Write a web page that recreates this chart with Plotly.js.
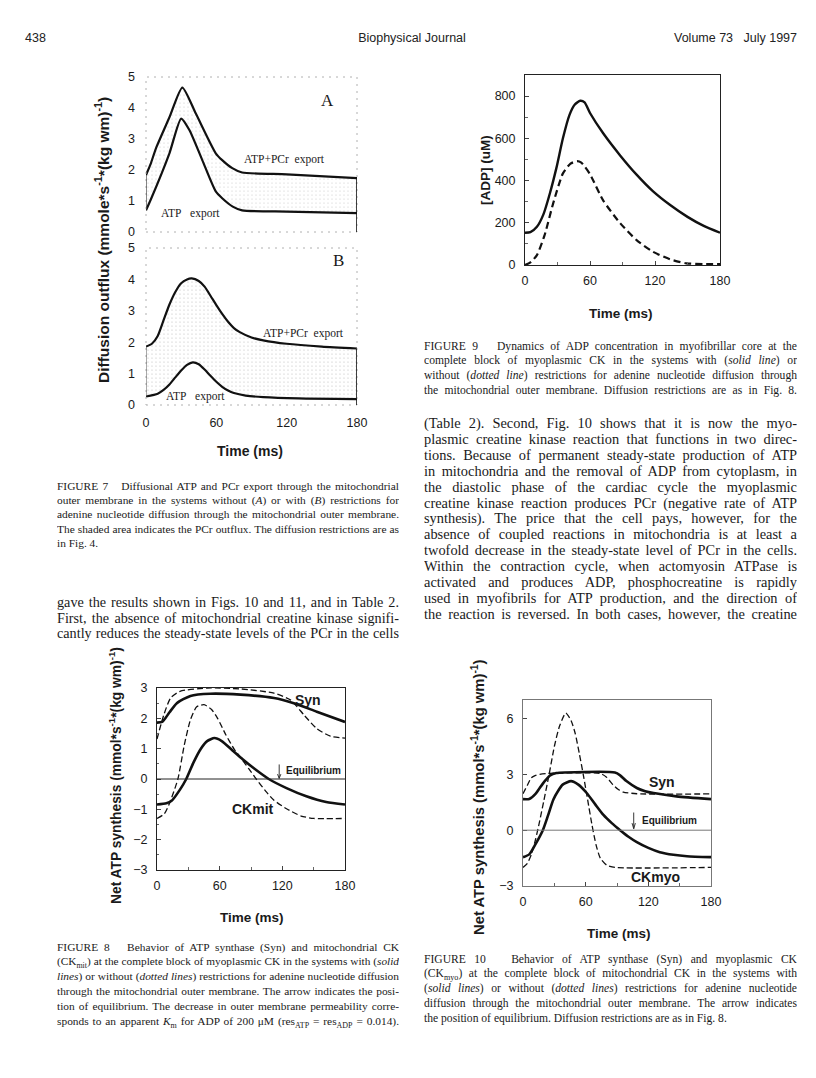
<!DOCTYPE html>
<html>
<head>
<meta charset="utf-8">
<script src="https://cdn.plot.ly/plotly-3.0.1.min.js"></script>
<style>
  html, body { margin:0; padding:0; background:#fff; }
  #page { position:relative; width:816px; height:1078px; overflow:hidden; background:#fff; }
  #chart { position:absolute; left:0; top:0; width:816px; height:1078px; }
  .ln { position:absolute; white-space:nowrap; font-family:"Liberation Serif","Times New Roman",serif; color:#1a1a1a; }
  .hd { position:absolute; font-family:"Liberation Sans Narrow","Liberation Sans",Arial,sans-serif; font-size:12.5px; color:#222; }
</style>
</head>
<body>
<div id="page">
  <div id="chart"></div>
</div>
<script>
// ---------------- DATA ----------------
// Figure 7A (no restrictions)
const fig7A_t_total = [0, 4, 8.5, 20, 31, 42.5, 59.5, 65, 73.6, 82, 120, 180];
const fig7A_total   = [1.84, 2.2, 2.7, 3.7, 4.66, 3.82, 2.54, 2.32, 2.06, 1.92, 1.86, 1.74];
const fig7A_t_atp   = [0, 4, 20, 30, 37, 48, 59.5, 65, 74, 82, 120, 180];
const fig7A_atp     = [0.7, 1.04, 2.54, 3.66, 3.29, 2.32, 1.31, 1.09, 0.82, 0.7, 0.66, 0.61];
// Figure 7B (with restrictions)
const fig7B_t       = [0, 5, 10, 15, 20, 25, 30, 35, 39, 45, 50, 55, 60, 65, 70, 75, 80, 90, 100, 120, 150, 180];
const fig7B_total   = [1.86, 1.95, 2.2, 2.7, 3.2, 3.6, 3.88, 4.0, 4.03, 3.95, 3.77, 3.48, 3.18, 2.9, 2.65, 2.45, 2.32, 2.15, 2.06, 1.95, 1.86, 1.8];
const fig7B_t_atp   = [0, 10, 15, 20, 25, 30, 35, 40, 45, 50, 55, 60, 65, 70, 75, 85, 100, 130, 180];
const fig7B_atp     = [0.27, 0.36, 0.48, 0.65, 0.88, 1.1, 1.28, 1.36, 1.3, 1.13, 0.93, 0.74, 0.58, 0.46, 0.38, 0.3, 0.25, 0.21, 0.19];
const fig7_ticks    = [0, 1, 2, 3, 4, 5];
const time_ticks    = [0, 60, 120, 180];

// Figure 9: [ADP] (uM)
const fig9_t_solid  = [0, 5, 11, 17, 23, 29, 35, 41, 46, 51, 55, 60, 72, 88, 103, 118, 134, 150, 165, 180];
const fig9_solid    = [153, 156, 181, 240, 340, 460, 600, 710, 760, 778, 770, 720, 625, 518, 428, 350, 284, 228, 185, 153];
const fig9_t_dash   = [0, 5, 11, 18, 26, 35, 42, 48, 52, 60, 72, 88, 103, 118, 134, 149, 165, 180];
const fig9_dash     = [0, 12, 47, 140, 292, 434, 480, 492, 485, 430, 307, 197, 118, 63, 27, 8, 4, 4];
const fig9_ticks    = [0, 200, 400, 600, 800];

// Figure 8: Syn and CKmit
const fig8_t_syn_s  = [0, 5, 12, 19, 32, 51, 80, 112, 131, 153, 180];
const fig8_syn_s    = [1.86, 1.88, 2.2, 2.5, 2.74, 2.81, 2.78, 2.67, 2.5, 2.22, 1.88];
const fig8_t_syn_d  = [0, 6.4, 13, 22, 48, 80, 112, 128, 141, 153, 166, 180];
const fig8_syn_d    = [1.32, 2.1, 2.67, 2.89, 3.0, 2.97, 2.83, 2.6, 2.1, 1.66, 1.41, 1.35];
const fig8_t_ck_s   = [0, 9, 14, 22, 28, 35, 42, 48, 55, 62, 72, 82, 94, 107, 124, 143, 162, 180];
const fig8_ck_s     = [-0.84, -0.8, -0.72, -0.35, 0, 0.55, 1.0, 1.25, 1.35, 1.25, 0.95, 0.65, 0.32, 0, -0.3, -0.57, -0.76, -0.84];
const fig8_t_ck_d   = [0, 7, 12, 20, 26, 32, 38, 45, 52, 58, 66, 74, 82, 88, 95, 104, 112, 124, 138, 150, 180];
const fig8_ck_d     = [-1.3, -1.15, -0.8, 0, 1.1, 1.95, 2.38, 2.45, 2.3, 2.0, 1.45, 0.98, 0.62, 0.33, 0, -0.4, -0.7, -0.98, -1.22, -1.3, -1.3];
const fig8_ticks    = [-3, -2, -1, 0, 1, 2, 3];

// Figure 10: Syn and CKmyo
const fig10_t_syn_s = [0, 6, 12, 16, 21, 26, 32, 40, 88, 93, 99, 109, 117, 125, 147, 180];
const fig10_syn_s   = [1.67, 1.68, 1.95, 2.27, 2.65, 2.95, 3.07, 3.1, 3.1, 2.95, 2.64, 2.27, 2.1, 2.0, 1.82, 1.67];
const fig10_t_syn_d = [0, 4, 8, 12, 16, 24, 74, 80, 86, 91, 96, 109, 180];
const fig10_syn_d   = [1.96, 2.4, 2.82, 2.95, 3.0, 3.05, 3.05, 2.85, 2.45, 2.2, 2.05, 1.96, 1.95];
const fig10_t_ck_s  = [0, 6, 12, 19, 24, 29, 34, 38, 46, 53, 61, 69, 77, 85, 93, 101, 109, 120, 131, 144, 157, 180];
const fig10_ck_s    = [-1.45, -1.3, -0.75, 0, 0.8, 1.64, 2.15, 2.45, 2.64, 2.45, 2.0, 1.4, 0.82, 0.38, 0, -0.35, -0.64, -0.95, -1.18, -1.32, -1.4, -1.45];
const fig10_t_ck_d  = [0, 4, 8, 12, 16, 20, 25, 30, 35, 41, 46, 50, 54, 58, 62, 66, 70, 74, 80, 88, 180];
const fig10_ck_d    = [-2.0, -1.8, -1.3, -0.5, 0.5, 1.6, 3.0, 4.5, 5.6, 6.3, 5.9, 5.2, 4.1, 2.9, 1.6, 0.3, -0.8, -1.5, -1.87, -2.0, -2.0];
const fig10_ticks   = [-3, 0, 3, 6];

// ---------------- TEXT ----------------
const headerLeft = "438", headerMid = "Biophysical Journal", headerRight = "Volume 73&nbsp;&nbsp; July 1997";
const cap7 = [
  "FIGURE 7&nbsp;&nbsp; Diffusional ATP and PCr export through the mitochondrial",
  "outer membrane in the systems without (<i>A</i>) or with (<i>B</i>) restrictions for",
  "adenine nucleotide diffusion through the mitochondrial outer membrane.",
  "The shaded area indicates the PCr outflux. The diffusion restrictions are as",
  "in Fig. 4."];
const bodyL = [
  "gave the results shown in Figs. 10 and 11, and in Table 2.",
  "First, the absence of mitochondrial creatine kinase signifi-",
  "cantly reduces the steady-state levels of the PCr in the cells"];
const cap9 = [
  "FIGURE 9&nbsp;&nbsp; Dynamics of ADP concentration in myofibrillar core at the",
  "complete block of myoplasmic CK in the systems with (<i>solid line</i>) or",
  "without (<i>dotted line</i>) restrictions for adenine nucleotide diffusion through",
  "the mitochondrial outer membrane. Diffusion restrictions are as in Fig. 8."];
const bodyR = [
  "(Table 2). Second, Fig. 10 shows that it is now the myo-",
  "plasmic creatine kinase reaction that functions in two direc-",
  "tions. Because of permanent steady-state production of ATP",
  "in mitochondria and the removal of ADP from cytoplasm, in",
  "the diastolic phase of the cardiac cycle the myoplasmic",
  "creatine kinase reaction produces PCr (negative rate of ATP",
  "synthesis). The price that the cell pays, however, for the",
  "absence of coupled reactions in mitochondria is at least a",
  "twofold decrease in the steady-state level of PCr in the cells.",
  "Within the contraction cycle, when actomyosin ATPase is",
  "activated and produces ADP, phosphocreatine is rapidly",
  "used in myofibrils for ATP production, and the direction of",
  "the reaction is reversed. In both cases, however, the creatine"];
const cap8 = [
  "FIGURE 8&nbsp;&nbsp; Behavior of ATP synthase (Syn) and mitochondrial CK",
  "(CK<sub style='font-size:70%'>mit</sub>) at the complete block of myoplasmic CK in the systems with (<i>solid</i>",
  "<i>lines</i>) or without (<i>dotted lines</i>) restrictions for adenine nucleotide diffusion",
  "through the mitochondrial outer membrane. The arrow indicates the posi-",
  "tion of equilibrium. The decrease in outer membrane permeability corre-",
  "sponds to an apparent <i>K</i><sub style='font-size:70%'>m</sub> for ADP of 200 μM (res<sub style='font-size:70%'>ATP</sub> = res<sub style='font-size:70%'>ADP</sub> = 0.014)."];
const cap10 = [
  "FIGURE 10&nbsp;&nbsp; Behavior of ATP synthase (Syn) and myoplasmic CK",
  "(CK<sub style='font-size:70%'>myo</sub>) at the complete block of mitochondrial CK in the systems with",
  "(<i>solid lines</i>) or without (<i>dotted lines</i>) restrictions for adenine nucleotide",
  "diffusion through the mitochondrial outer membrane. The arrow indicates",
  "the position of equilibrium. Diffusion restrictions are as in Fig. 8."];

// ---------------- PAGE TEXT ----------------
const page = document.getElementById('page');
function addBlock(lines, left, width, topCenter, step, size, lastLeft) {
  lines.forEach((t, i) => {
    const d = document.createElement('div');
    const isLast = (i === lines.length - 1);
    d.className = 'ln';
    d.style.left = left + 'px';
    d.style.fontSize = size + 'px';
    d.style.lineHeight = step + 'px';
    d.style.height = step + 'px';
    d.style.top = (topCenter + i * step - step / 2) + 'px';
    d.innerHTML = t;
    page.appendChild(d);
    // shrink if the natural line is wider than the column
    let fs = size;
    while (d.offsetWidth > width && fs > 7) { fs -= 0.1; d.style.fontSize = fs + 'px'; }
    if (!(isLast && lastLeft)) {
      d.style.width = width + 'px';
      d.style.whiteSpace = 'normal';
      d.style.textAlign = 'justify';
      d.style.textAlignLast = 'justify';
      d.style.overflow = 'hidden';
    }
  });
}
function addHeader(txt, x, y, align) {
  const d = document.createElement('div');
  d.className = 'hd';
  d.innerHTML = txt;
  d.style.top = (y - 8) + 'px';
  if (align === 'left') d.style.left = x + 'px';
  else if (align === 'right') { d.style.right = (816 - x) + 'px'; }
  else { d.style.left = (x - 100) + 'px'; d.style.width = '200px'; d.style.textAlign = 'center'; }
  page.appendChild(d);
}
addHeader(headerLeft, 25, 39, 'left');
addHeader(headerMid, 412, 39, 'center');
addHeader(headerRight, 797, 39, 'right');
addBlock(cap7, 57, 342, 486, 14.3, 11.4, true);
addBlock(bodyL, 57, 342, 603, 15.6, 14.2, false);
addBlock(cap9, 424, 373, 347, 14.8, 11.6, false);
addBlock(bodyR, 424, 373, 424, 15.9, 14.4, false);
addBlock(cap8, 57, 342, 947, 14.8, 11.4, false);
addBlock(cap10, 424, 373, 960, 14.8, 11.6, true);

// ---------------- CHART ----------------
const W = 816, H = 1078;
const fx = p => p / W;
const fy = p => 1 - p / H;

const solid = (c, w) => ({color: c || '#111', width: w || 2.2, shape: 'spline', smoothing: 0.6});
const dashed = (w, d) => ({color: '#111', width: w || 1.3, dash: d || '6px,3px', shape: 'spline', smoothing: 0.6});

const traces = [
  // Fig 7A
  {x: fig7A_t_atp, y: fig7A_atp, xaxis: 'x', yaxis: 'y', mode: 'lines', line: solid('#111', 2.2)},
  {x: fig7A_t_total, y: fig7A_total, xaxis: 'x', yaxis: 'y', mode: 'lines', line: solid('#111', 2.2),
   fill: 'tonexty', fillcolor: 'rgba(0,0,0,0)',
   fillpattern: {shape: '.', fgcolor: '#c4c4c4', size: 4, solidity: 0.06}},
  // Fig 7B
  {x: fig7B_t_atp, y: fig7B_atp, xaxis: 'x2', yaxis: 'y2', mode: 'lines', line: solid('#111', 2.2)},
  {x: fig7B_t, y: fig7B_total, xaxis: 'x2', yaxis: 'y2', mode: 'lines', line: solid('#111', 2.2),
   fill: 'tonexty', fillcolor: 'rgba(0,0,0,0)',
   fillpattern: {shape: '.', fgcolor: '#b8b8b8', size: 4, solidity: 0.07}},
  // Fig 9
  {x: fig9_t_solid, y: fig9_solid, xaxis: 'x3', yaxis: 'y3', mode: 'lines', line: solid('#111', 2.4)},
  {x: fig9_t_dash, y: fig9_dash, xaxis: 'x3', yaxis: 'y3', mode: 'lines', line: {color: '#111', width: 2.2, dash: '7px,4px', shape: 'spline', smoothing: 0.6}},
  // Fig 8
  {x: fig8_t_syn_d, y: fig8_syn_d, xaxis: 'x4', yaxis: 'y4', mode: 'lines', line: dashed(1.3)},
  {x: fig8_t_ck_d, y: fig8_ck_d, xaxis: 'x4', yaxis: 'y4', mode: 'lines', line: dashed(1.3)},
  {x: fig8_t_syn_s, y: fig8_syn_s, xaxis: 'x4', yaxis: 'y4', mode: 'lines', line: solid('#111', 2.6)},
  {x: fig8_t_ck_s, y: fig8_ck_s, xaxis: 'x4', yaxis: 'y4', mode: 'lines', line: solid('#111', 2.6)},
  // Fig 10
  {x: fig10_t_syn_d, y: fig10_syn_d, xaxis: 'x5', yaxis: 'y5', mode: 'lines', line: dashed(1.3)},
  {x: fig10_t_ck_d, y: fig10_ck_d, xaxis: 'x5', yaxis: 'y5', mode: 'lines', line: dashed(1.3)},
  {x: fig10_t_syn_s, y: fig10_syn_s, xaxis: 'x5', yaxis: 'y5', mode: 'lines', line: solid('#111', 2.6)},
  {x: fig10_t_ck_s, y: fig10_ck_s, xaxis: 'x5', yaxis: 'y5', mode: 'lines', line: solid('#111', 2.6)}
];

const tickFont = {family: 'Liberation Sans, Arial, sans-serif', size: 12.5, color: '#1a1a1a'};
function xa(dom, showLabels, opts) {
  return Object.assign({
    domain: [fx(dom[0]), fx(dom[1])], range: [0, 180], tickvals: time_ticks,
    showticklabels: showLabels, tickfont: tickFont, showgrid: false, zeroline: false,
    ticks: 'inside', ticklen: 4, tickcolor: '#444',
    minor: {tickvals: [30, 90, 150], ticks: 'inside', ticklen: 3, tickcolor: '#666'},
    showline: true, linecolor: '#222', linewidth: 1, mirror: true, fixedrange: true, ticklabelstandoff: 4
  }, opts || {});
}
function ya(dom, range, tv, opts) {
  return Object.assign({
    domain: [fy(dom[1]), fy(dom[0])], range: range, tickvals: tv,
    tickfont: tickFont, showgrid: false, zeroline: false,
    ticks: 'inside', ticklen: 4, tickcolor: '#444',
    showline: true, linecolor: '#222', linewidth: 1, mirror: true, fixedrange: true, ticklabelstandoff: 6
  }, opts || {});
}
// arrow drawn as a path in data coordinates: shaft plus open head
function arrowPath(x, yTop, yTip, dx, dy) {
  return `M ${x},${yTop} L ${x},${yTip} M ${x - dx},${yTip + dy} L ${x},${yTip} L ${x + dx},${yTip + dy}`;
}
const pc = (x, y, text, size, extra) => Object.assign({xref: 'paper', yref: 'paper', x: fx(x), y: fy(y), xanchor: 'center', yanchor: 'middle', text: text, showarrow: false, font: {size: size, weight: 'bold'}}, extra || {});

const layout = {
  width: W, height: H, margin: {l: 0, r: 0, t: 0, b: 0},
  paper_bgcolor: 'rgba(0,0,0,0)', plot_bgcolor: 'rgba(0,0,0,0)', showlegend: false,
  font: {family: 'Liberation Sans, Arial, sans-serif', color: '#1a1a1a'},
  // Fig 7A
  xaxis: xa([146, 357], false, {anchor: 'y', showline: false, ticks: '', minor: {ticks: ''}}),
  yaxis: ya([77, 232], [0, 5], fig7_ticks, {anchor: 'x', showline: false, ticks: '', ticklabelstandoff: 10}),
  // Fig 7B
  xaxis2: xa([146, 357], true, {anchor: 'y2', showline: false, ticks: '', minor: {ticks: ''}, ticklabelstandoff: 8}),
  yaxis2: ya([248, 405], [0, 5], fig7_ticks, {anchor: 'x2', showline: false, ticks: '', ticklabelstandoff: 10}),
  // Fig 9
  xaxis3: xa([525, 720], true, {anchor: 'y3'}),
  yaxis3: ya([75, 265], [0, 900], fig9_ticks, {anchor: 'x3', minor: {tickvals: [100, 300, 500, 700], ticks: 'inside', ticklen: 3, tickcolor: '#666'}}),
  // Fig 8
  xaxis4: xa([157, 345], true, {anchor: 'y4'}),
  yaxis4: ya([688, 870], [-3, 3], fig8_ticks, {anchor: 'x4', minor: {dtick: 0.5, ticks: 'inside', ticklen: 2, tickcolor: '#666'}}),
  // Fig 10
  xaxis5: xa([523, 711], true, {anchor: 'y5', linecolor: '#777'}),
  yaxis5: ya([700, 886], [-3, 7], fig10_ticks, {anchor: 'x5', linecolor: '#777'}),
  shapes: [
    // Fig 7 faint broken frames
    {type: 'rect', xref: 'x domain', yref: 'y domain', x0: 0, x1: 1, y0: 0, y1: 1, line: {color: '#b0b0b0', width: 1, dash: '2px,5px'}},
    {type: 'rect', xref: 'x2 domain', yref: 'y2 domain', x0: 0, x1: 1, y0: 0, y1: 1, line: {color: '#b0b0b0', width: 1, dash: '2px,5px'}},
    // Fig 7 end bars
    {type: 'line', xref: 'x', yref: 'y', x0: 180, x1: 180, y0: 0, y1: fig7A_total[fig7A_total.length - 1], line: {color: '#111', width: 1.6}},
    {type: 'line', xref: 'x', yref: 'y', x0: 0, x1: 0, y0: fig7A_atp[0], y1: fig7A_total[0], line: {color: '#333', width: 1.2}},
    {type: 'line', xref: 'x2', yref: 'y2', x0: 180, x1: 180, y0: 0, y1: fig7B_total[fig7B_total.length - 1], line: {color: '#111', width: 1.6}},
    {type: 'line', xref: 'x2', yref: 'y2', x0: 0, x1: 0, y0: fig7B_atp[0], y1: fig7B_total[0], line: {color: '#555', width: 1}},
    // Zero lines
    {type: 'line', xref: 'x4', yref: 'y4', x0: 0, x1: 180, y0: 0, y1: 0, line: {color: '#222', width: 1}},
    {type: 'line', xref: 'x5', yref: 'y5', x0: 0, x1: 180, y0: 0, y1: 0, line: {color: '#777', width: 1}},
    // Equilibrium arrows
    {type: 'path', xref: 'x4', yref: 'y4', path: arrowPath(117, 0.48, 0.02, 1.6, 0.14), line: {color: '#222', width: 0.9}},
    {type: 'path', xref: 'x5', yref: 'y5', path: arrowPath(106, 0.95, 0.08, 1.6, 0.3), line: {color: '#222', width: 0.9}}
  ],
  annotations: [
    // Fig 7
    {xref: 'x', yref: 'y', x: 155, y: 4.25, text: 'A', showarrow: false, font: {family: 'Liberation Serif, serif', size: 17}},
    {xref: 'x', yref: 'y', x: 118, y: 2.35, text: 'ATP+PCr&nbsp; export', showarrow: false, font: {family: 'Liberation Serif, serif', size: 11.5}},
    {xref: 'x', yref: 'y', x: 38, y: 0.6, text: 'ATP&nbsp;&nbsp; export', showarrow: false, font: {family: 'Liberation Serif, serif', size: 11.5}},
    {xref: 'x2', yref: 'y2', x: 164, y: 4.6, text: 'B', showarrow: false, font: {family: 'Liberation Serif, serif', size: 17}},
    {xref: 'x2', yref: 'y2', x: 134, y: 2.27, text: 'ATP+PCr&nbsp; export', showarrow: false, font: {family: 'Liberation Serif, serif', size: 11.5}},
    {xref: 'x2', yref: 'y2', x: 42, y: 0.26, text: 'ATP&nbsp;&nbsp; export', showarrow: false, font: {family: 'Liberation Serif, serif', size: 11.5}},
    pc(102, 240, 'Diffusion outflux (mmole*s<sup>-1</sup>*(kg wm)<sup>-1</sup>)', 15.5, {textangle: -90}),
    pc(250, 451, 'Time (ms)', 14),
    // Fig 9
    pc(486, 170, '[ADP] (uM)', 13.5, {textangle: -90}),
    pc(621, 313, 'Time (ms)', 13.5),
    // Fig 8
    {xref: 'x4', yref: 'y4', x: 145, y: 2.62, text: 'Syn', showarrow: false, font: {size: 14, weight: 'bold'}},
    {xref: 'x4', yref: 'y4', x: 92, y: -0.98, text: 'CKmit', showarrow: false, font: {size: 14, weight: 'bold'}},
    {xref: 'x4', yref: 'y4', x: 150, y: 0.27, text: 'Equilibrium', showarrow: false, font: {size: 10, weight: 'bold'}},
    pc(115, 776, 'Net ATP synthesis (mmol*s<sup>-1</sup>*(kg wm)<sup>-1</sup>)', 13.8, {textangle: -90}),
    pc(252, 917, 'Time (ms)', 13.5),
    // Fig 10
    {xref: 'x5', yref: 'y5', x: 133, y: 2.6, text: 'Syn', showarrow: false, font: {size: 14, weight: 'bold'}},
    {xref: 'x5', yref: 'y5', x: 127, y: -2.5, text: 'CKmyo', showarrow: false, font: {size: 14, weight: 'bold'}},
    {xref: 'x5', yref: 'y5', x: 140, y: 0.5, text: 'Equilibrium', showarrow: false, font: {size: 10, weight: 'bold'}},
    pc(478, 797, 'Net ATP synthesis (mmol*s<sup>-1</sup>*(kg wm)<sup>-1</sup>)', 14.8, {textangle: -90}),
    pc(619, 933, 'Time (ms)', 13.5)
  ]
};

Plotly.newPlot('chart', traces, layout, {staticPlot: true, displayModeBar: false});
</script>
</body>
</html>
